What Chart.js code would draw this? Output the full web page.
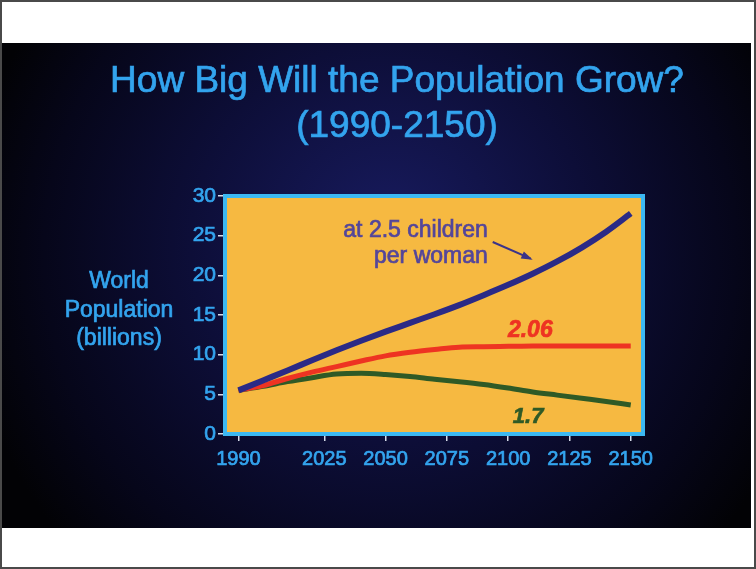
<!DOCTYPE html>
<html>
<head>
<meta charset="utf-8">
<script src="https://cdn.jsdelivr.net/npm/chart.js@4.4.1/dist/chart.umd.min.js"></script>
<style>
  html, body { margin: 0; padding: 0; background: #fff; }
  #wrap { width: 756px; height: 569px; position: relative; }
</style>
</head>
<body>
<div id="wrap"><canvas id="chart" width="756" height="569"></canvas></div>
<script>
// years, every 10 years
var years = [1990, 2000, 2010, 2020, 2030, 2040, 2050, 2060, 2070, 2080, 2090, 2100, 2110, 2120, 2130, 2140, 2150];
// world population, billions
var pop25  = [5.5, 6.75, 8.0, 9.3, 10.55, 11.75, 12.9, 14.0, 15.1, 16.25, 17.5, 18.8, 20.2, 21.75, 23.5, 25.5, 27.8];
var pop206 = [5.5, 6.1, 7.0, 7.8, 8.5, 9.2, 9.85, 10.3, 10.65, 10.95, 11.0, 11.05, 11.1, 11.1, 11.1, 11.1, 11.1];
var pop17  = [5.5, 6.0, 6.6, 7.1, 7.55, 7.65, 7.5, 7.25, 6.9, 6.6, 6.25, 5.8, 5.3, 4.9, 4.5, 4.1, 3.65];
var xTicks = [1990, 2025, 2050, 2075, 2100, 2125, 2150];
var yTicks = [0, 5, 10, 15, 20, 25, 30];

var FONT = "'Liberation Sans', Arial, sans-serif";
var LIGHT_BLUE = "#33a4ee";

function points(vals){
    return years.map(function(y, i){ return {x: y, y: vals[i]}; });
}

// notes placed in data units (year, billions)
var notes = [
    {text: "at 2.5 children", x: 2091.7, y: 24.8, align: "right", color: "#54469a", font: "23px " + FONT},
    {text: "per woman", x: 2091.7, y: 21.6, align: "right", color: "#54469a", font: "23px " + FONT},
    {text: "2.06", x: 2099.9, y: 12.2, align: "left", color: "#ee3322", font: "italic bold 23px " + FONT},
    {text: "1.7", x: 2101.9, y: 1.4, align: "left", color: "#2f5a26", font: "italic bold 22px " + FONT}
];
var arrow = {x0: 2093.7, y0: 24.2, x1: 2109.2, y1: 22.1};

// draw text a little heavier, like the projected slide
function heavyText(ctx, s, x, y){
    ctx.lineWidth = 0.7;
    ctx.strokeStyle = ctx.fillStyle;
    ctx.fillText(s, x, y);
    ctx.strokeText(s, x, y);
}

var slidePlugin = {
    id: "slide",
    beforeDraw: function(c){
        let ctx = c.ctx;
        let a = c.chartArea;
        ctx.save();
        ctx.fillStyle = "#fff";
        ctx.fillRect(0, 0, 756, 569);
        ctx.strokeStyle = "#4a4a4a";
        ctx.lineWidth = 2;
        ctx.strokeRect(1, 1, 754, 567);
        let g = ctx.createRadialGradient(390, 230, 10, 390, 260, 430);
        g.addColorStop(0, "#171a5c");
        g.addColorStop(0.45, "#0d0e38");
        g.addColorStop(0.8, "#06061a");
        g.addColorStop(1, "#020205");
        ctx.fillStyle = g;
        ctx.fillRect(2, 43, 749, 485);
        // plot box
        ctx.fillStyle = "#f6b941";
        ctx.fillRect(a.left, a.top, a.right - a.left, a.bottom - a.top);
        ctx.restore();
    },
    afterDatasetsDraw: function(c){
        let ctx = c.ctx;
        let a = c.chartArea;
        let xs = c.scales.x, ys = c.scales.y;
        ctx.save();
        ctx.strokeStyle = "#3cb8f2";
        ctx.lineWidth = 4;
        ctx.strokeRect(a.left, a.top, a.right - a.left, a.bottom - a.top);

        ctx.textBaseline = "alphabetic";
        notes.forEach(function(n){
            ctx.font = n.font;
            ctx.fillStyle = n.color;
            ctx.textAlign = n.align;
            heavyText(ctx, n.text, xs.getPixelForValue(n.x), ys.getPixelForValue(n.y));
        });
        // arrow to the 2.5 line
        let x0 = xs.getPixelForValue(arrow.x0), y0 = ys.getPixelForValue(arrow.y0);
        let x1 = xs.getPixelForValue(arrow.x1), y1 = ys.getPixelForValue(arrow.y1);
        ctx.strokeStyle = "#3b3389";
        ctx.fillStyle = "#3b3389";
        ctx.lineWidth = 2;
        ctx.beginPath();
        ctx.moveTo(x0, y0);
        ctx.lineTo(x1, y1);
        ctx.stroke();
        let ang = Math.atan2(y1 - y0, x1 - x0);
        ctx.beginPath();
        ctx.moveTo(x1 + 2, y1 + 1);
        ctx.lineTo(x1 - 10 * Math.cos(ang - 0.4), y1 - 10 * Math.sin(ang - 0.4));
        ctx.lineTo(x1 - 10 * Math.cos(ang + 0.4), y1 - 10 * Math.sin(ang + 0.4));
        ctx.closePath();
        ctx.fill();

        // title and axis label
        ctx.fillStyle = LIGHT_BLUE;
        ctx.textAlign = "center";
        ctx.font = "37px " + FONT;
        heavyText(ctx, "How Big Will the Population Grow?", 397, 92);
        heavyText(ctx, "(1990-2150)", 397, 137);
        ctx.font = "23px " + FONT;
        heavyText(ctx, "World", 119, 288);
        heavyText(ctx, "Population", 119, 317);
        heavyText(ctx, "(billions)", 119, 345);
        ctx.restore();
    }
};

function config_chart(){
    return {
        type: "line",
        data: {
            datasets: [
                {label: "at 2.5 children per woman", data: points(pop25), borderColor: "#2b2a86", borderWidth: 6},
                {label: "2.06", data: points(pop206), borderColor: "#ee3322", borderWidth: 5},
                {label: "1.7", data: points(pop17), borderColor: "#2f5a26", borderWidth: 5}
            ]
        },
        options: {
            responsive: false,
            animation: false,
            events: [],
            elements: {
                point: {radius: 0},
                line: {cubicInterpolationMode: "monotone", fill: false}
            },
            layout: {padding: {left: 0, top: 196, right: 113, bottom: 95}},
            plugins: {legend: {display: false}, tooltip: {enabled: false}},
            scales: {
                x: {
                    type: "linear",
                    min: 1984.5,
                    max: 2155,
                    afterBuildTicks: function(s){ s.ticks = xTicks.map(function(v){ return {value: v}; }); },
                    afterFit: function(s){ s.height = 40; },
                    ticks: {
                        color: LIGHT_BLUE, font: {family: FONT, size: 20}, padding: 6, maxRotation: 0, autoSkip: false,
                        textStrokeColor: LIGHT_BLUE, textStrokeWidth: 0.7,
                        callback: function(v){ return String(v); }
                    },
                    grid: {drawOnChartArea: false, tickLength: 7, color: "#d6dcea", lineWidth: 1.5},
                    border: {display: false}
                },
                y: {
                    min: 0,
                    max: 30,
                    afterBuildTicks: function(s){ s.ticks = yTicks.map(function(v){ return {value: v}; }); },
                    afterFit: function(s){ s.width = 225; },
                    ticks: {
                        color: LIGHT_BLUE, font: {family: FONT, size: 21}, padding: 2,
                        textStrokeColor: LIGHT_BLUE, textStrokeWidth: 0.7
                    },
                    grid: {drawOnChartArea: false, tickLength: 7, color: "#d6dcea", lineWidth: 1.5},
                    border: {display: false}
                }
            }
        },
        plugins: [slidePlugin]
    };
}

var chart = new Chart(document.getElementById("chart"), config_chart());
</script>
</body>
</html>
